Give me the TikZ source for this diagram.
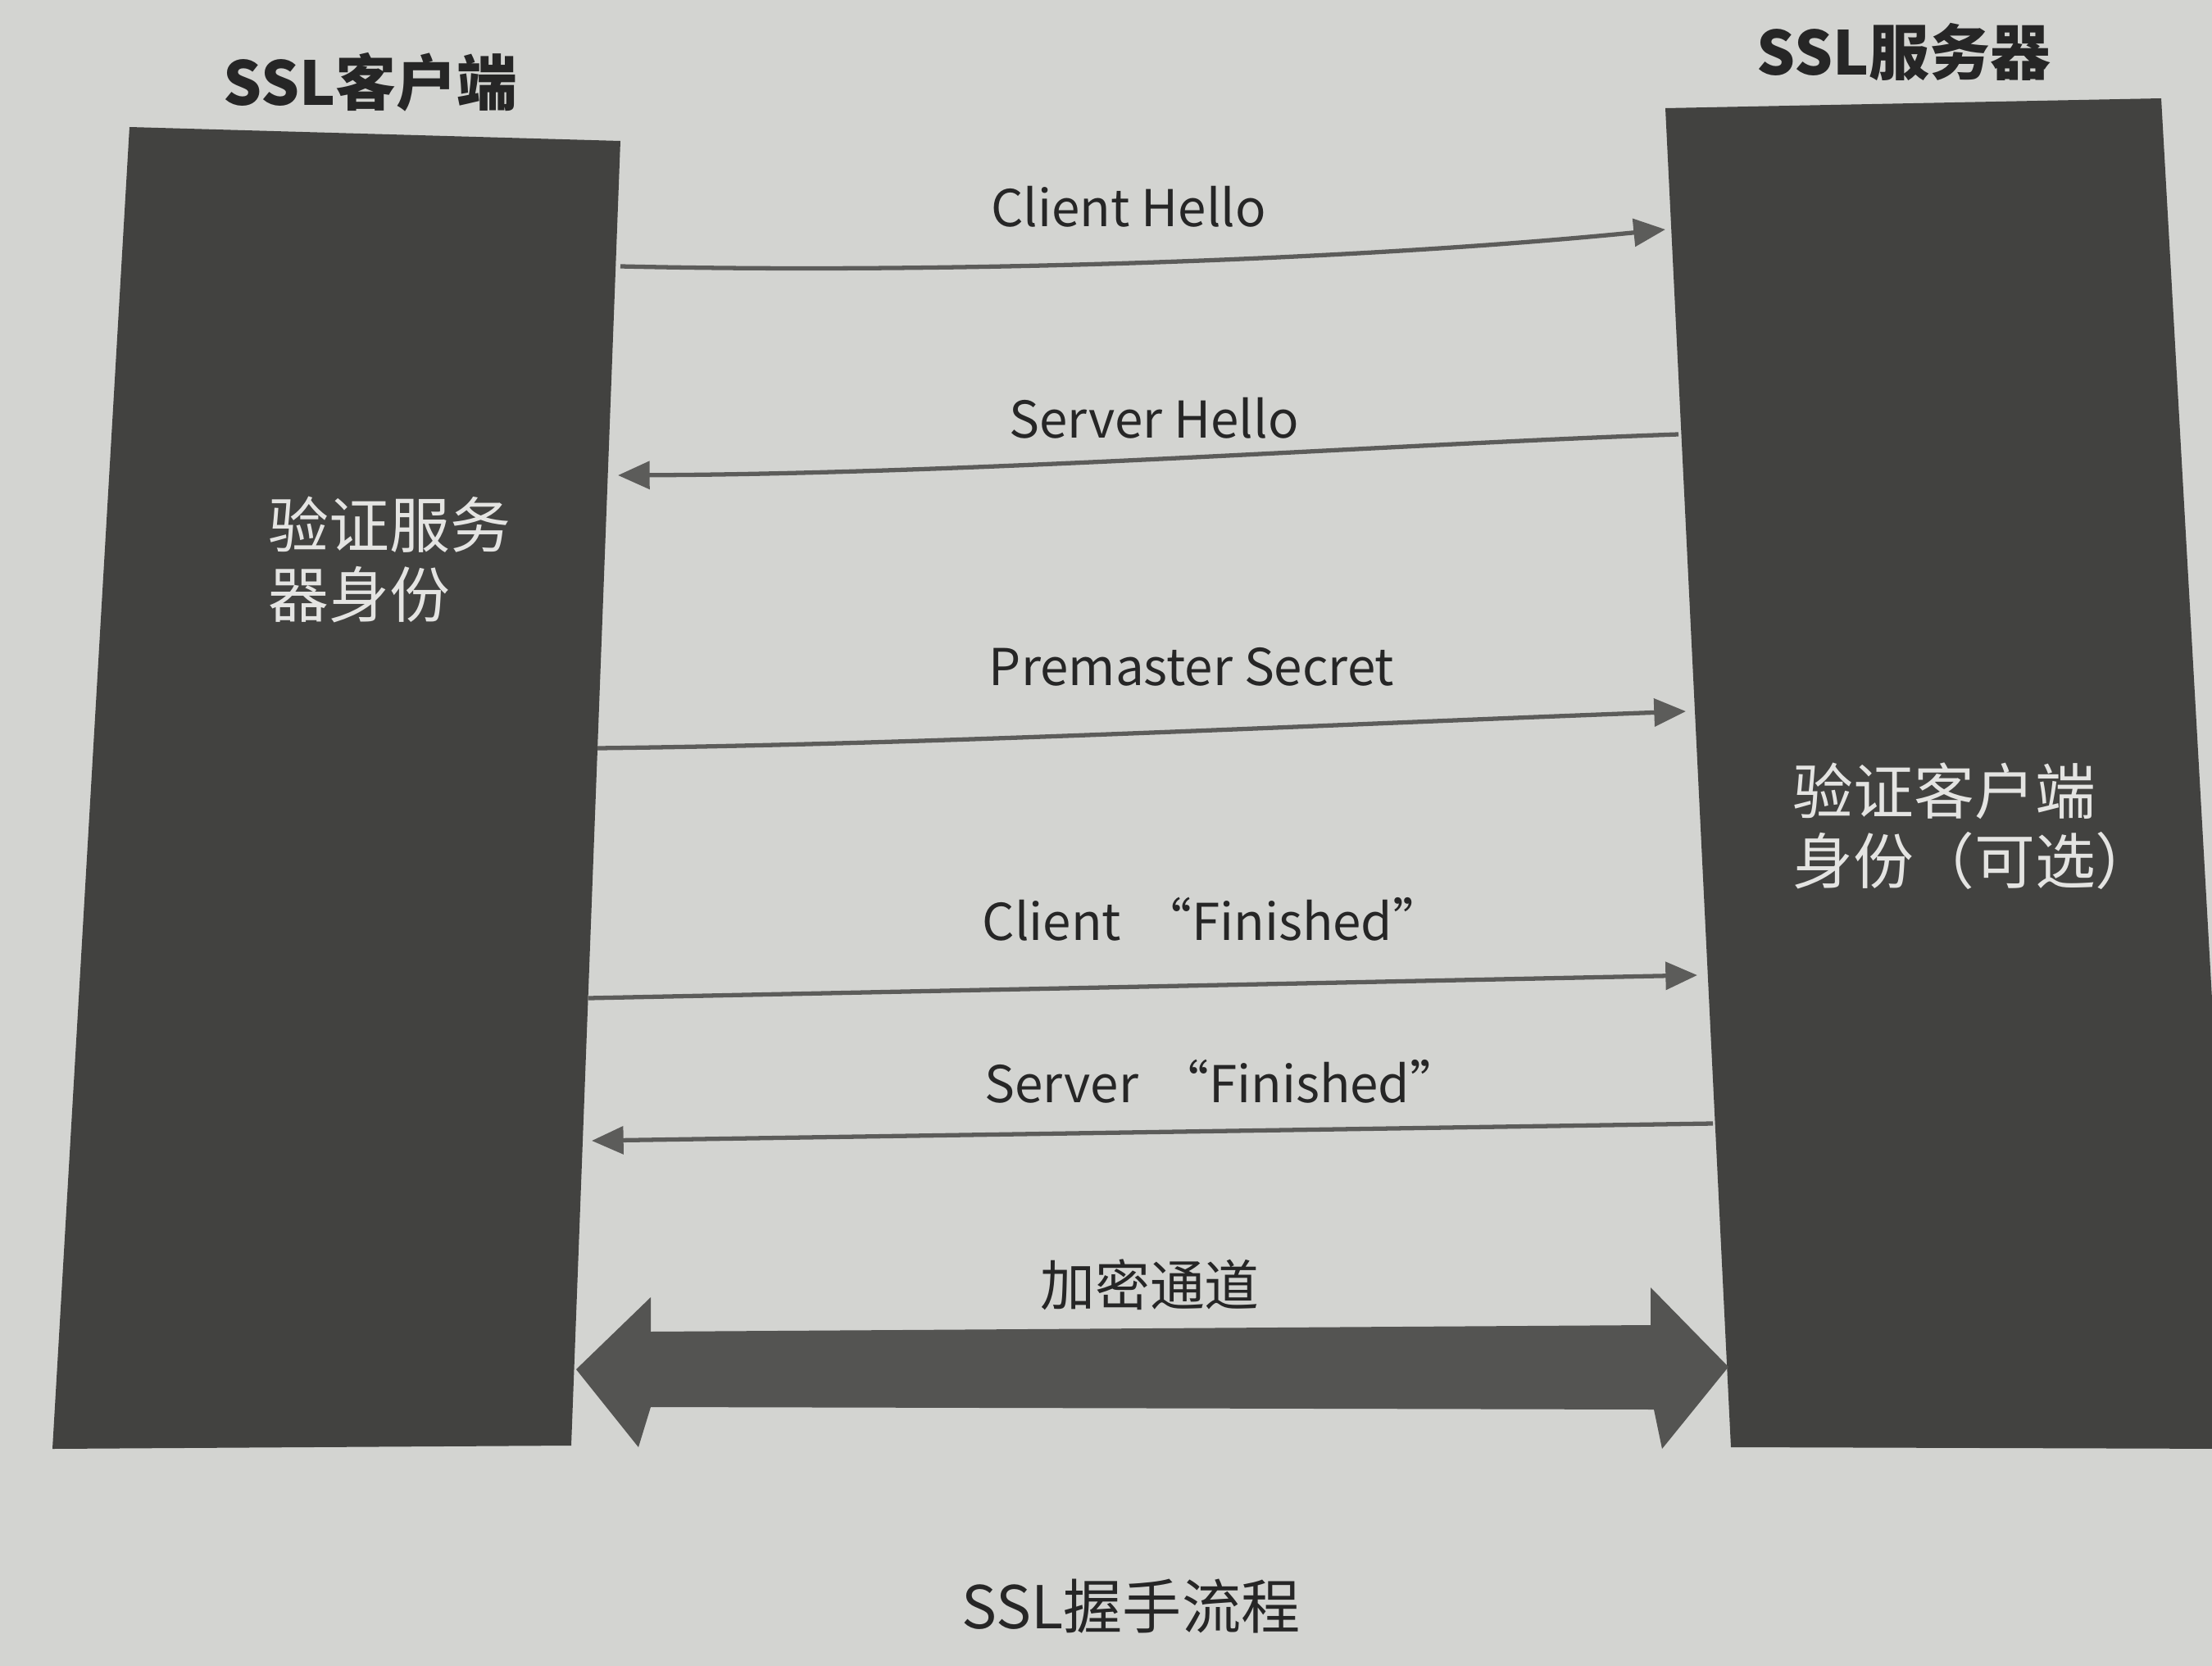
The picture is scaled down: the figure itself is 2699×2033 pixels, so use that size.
\documentclass[tikz,border=0pt]{standalone}
\usepackage{fontspec}
\setmainfont{Noto Sans CJK SC}
\usetikzlibrary{arrows.meta}
\definecolor{paper}{HTML}{D3D4D1}
\definecolor{boxgray}{HTML}{424240}
\definecolor{linegray}{HTML}{5C5C5A}
\definecolor{pipegray}{HTML}{545452}
\definecolor{inktext}{HTML}{262626}
\definecolor{boxtext}{HTML}{E4E4E2}
\begin{document}
\begin{tikzpicture}[x=0.01cm,y=-0.01cm,
  titlelbl/.style={font=\fontsize{21pt}{25pt}\selectfont\bfseries, text=inktext, inner sep=0pt},
  boxlbl/.style={font=\fontsize{21pt}{24pt}\selectfont, text=boxtext, align=left, anchor=west, inner sep=0pt},
  msglbl/.style={font=\fontsize{17.6pt}{21pt}\selectfont, text=inktext, inner sep=0pt},
  chanlbl/.style={font=\fontsize{19pt}{23pt}\selectfont, text=inktext, inner sep=0pt},
  msg/.style={draw=linegray, line width=1.5pt, -{Triangle[length=11pt,width=9.5pt]}},
  caplbl/.style={font=\fontsize{20.5pt}{25pt}\selectfont, text=inktext, inner sep=0pt}]
\useasboundingbox (0,0) rectangle (2699,2033);
\fill[paper] (0,0) rectangle (2699,2033);
\begin{scope}
\clip (0,0) rectangle (2699,2033);
% client box
\fill[boxgray] (158,155) -- (757,172) -- (697,1764) -- (64,1768) -- cycle;
% server box
\fill[boxgray] (2032,132) -- (2637,120) -- (2730,1768) -- (2112,1766) -- cycle;
\end{scope}

% titles
\node[titlelbl] (tclient) at (452,100) {SSL客户端};
\node[titlelbl] (tserver) at (2323,63) {SSL服务器};

% box labels
\node[boxlbl] (lclient) at (327,683) {验证服务\\器身份};
\node[boxlbl] (lserver) at (2187,1008) {验证客户端\\身份（可选）};

% endpoints
\coordinate (a1s) at (757,325);  \coordinate (a1e) at (2032,280);
\coordinate (a2s) at (2048,530); \coordinate (a2e) at (754,580);
\coordinate (a3s) at (729,913);  \coordinate (a3e) at (2057,868);
\coordinate (a4s) at (718,1218); \coordinate (a4e) at (2071,1190);
\coordinate (a5s) at (2090,1371);\coordinate (a5e) at (722,1392);

\draw[msg] (a1s) .. controls (1150,334) and (1650,318) .. (a1e);
\draw[msg] (a2s) .. controls (1700,542) and (1200,578) .. (a2e);
\draw[msg] (a3s) .. controls (1150,908) and (1600,885) .. (a3e);
\draw[msg] (a4s) -- (a4e);
\draw[msg] (a5s) -- (a5e);

% message labels
\node[msglbl] (m1) at (1377,252) {Client Hello};
\node[msglbl] (m2) at (1408,510) {Server Hello};
\node[msglbl] (m3) at (1454,814) {Premaster Secret};
\node[msglbl] (m4) at (1480,1122) {Client \,“Finished”};
\node[msglbl] (m5) at (1492,1320) {Server \,“Finished”};

% encrypted channel double arrow
\coordinate (pl) at (703,1671);
\coordinate (pr) at (2109,1668);
\fill[pipegray] (pl) -- (794,1583) -- (794,1625) -- (2014,1617) -- (2014,1571)
  -- (pr) -- (2028,1768) -- (2018,1720) -- (794,1717) -- (779,1766) -- cycle;
\node[chanlbl] (m6) at (1403,1568) {加密通道};

% caption
\node[caplbl] (cap) at (1380,1960) {SSL握手流程};
\end{tikzpicture}
\end{document}
